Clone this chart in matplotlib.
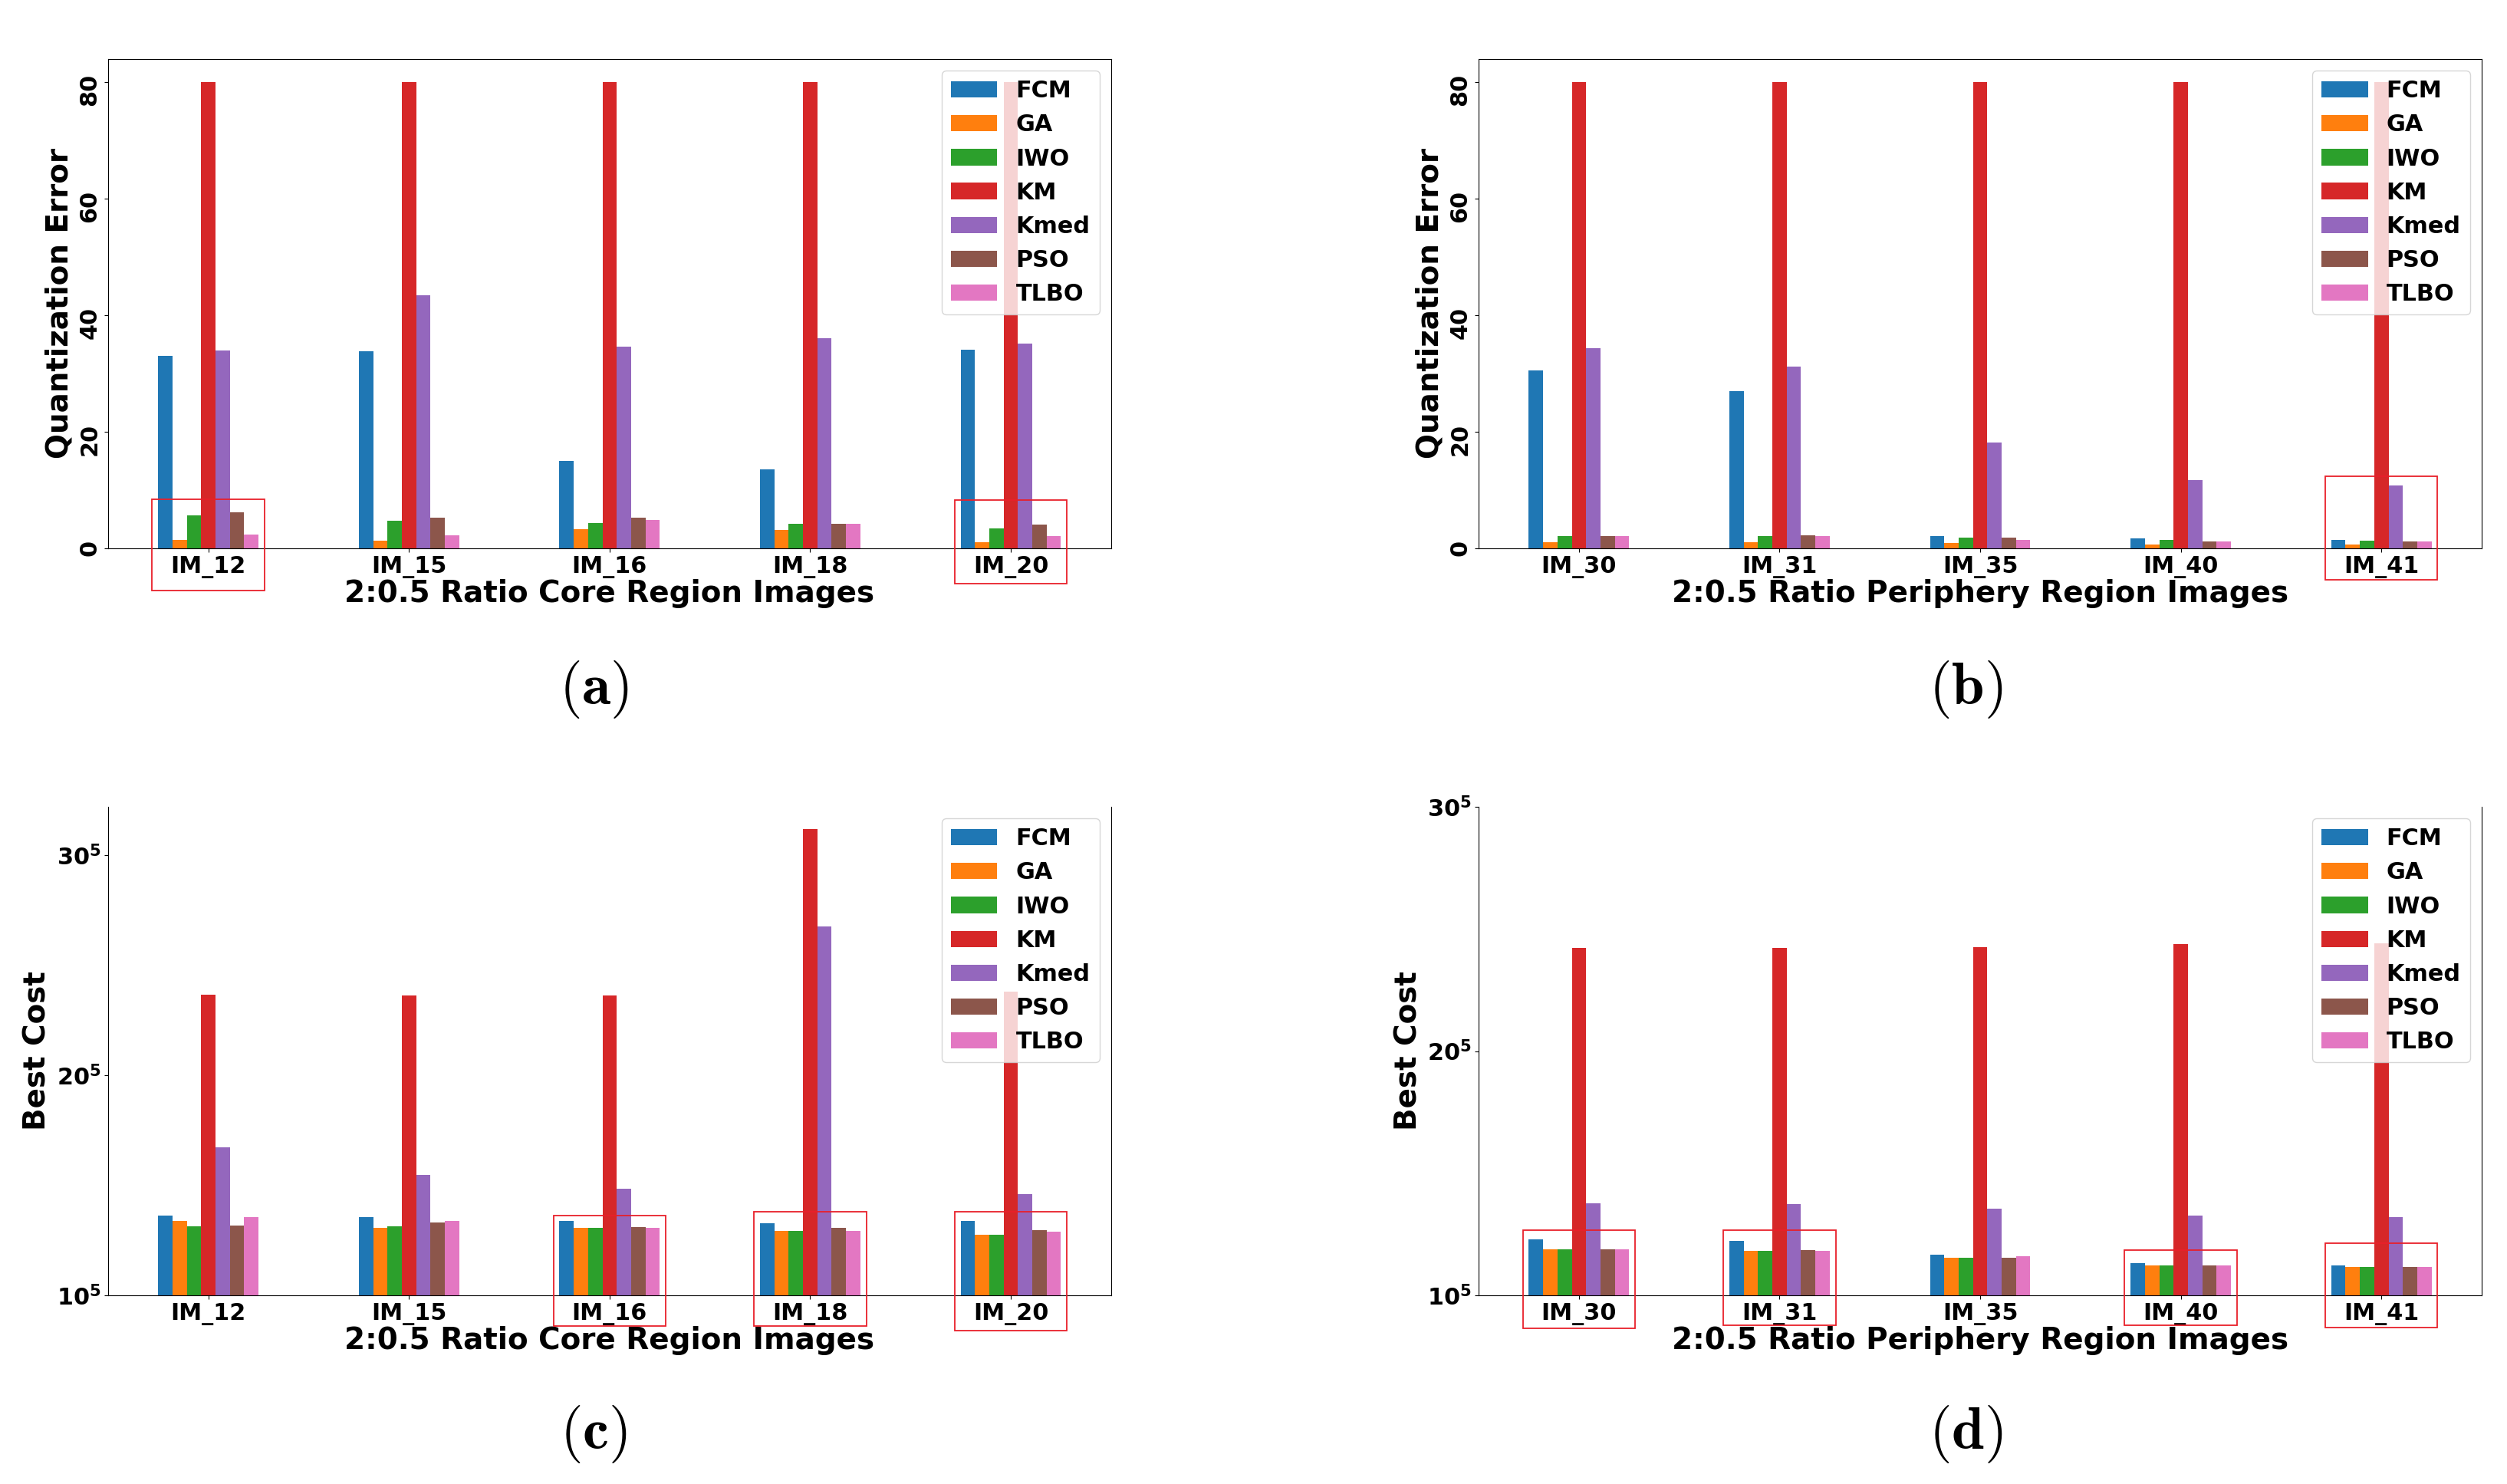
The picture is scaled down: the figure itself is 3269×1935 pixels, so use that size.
import numpy as np
import matplotlib
matplotlib.use('Agg')
import matplotlib.pyplot as plt
from matplotlib.patches import Rectangle
import matplotlib.transforms as mtransforms

# Metodos comparados (orden de las barras)
methods = ['FCM', 'GA', 'IWO', 'KM', 'Kmed', 'PSO', 'TLBO']

core_images = ['IM_12', 'IM_15', 'IM_16', 'IM_18', 'IM_20']
periph_images = ['IM_30', 'IM_31', 'IM_35', 'IM_40', 'IM_41']

# Quantization error - region central (una lista por metodo)
qe_core_fcm = [33.1, 33.9, 15.0, 13.5, 34.1]
qe_core_ga = [1.4, 1.3, 3.3, 3.1, 1.0]
qe_core_iwo = [5.6, 4.7, 4.3, 4.2, 3.4]
qe_core_km = [80.0, 80.0, 80.0, 80.0, 80.0]
qe_core_kmed = [34.0, 43.5, 34.6, 36.1, 35.2]
qe_core_pso = [6.2, 5.2, 5.2, 4.2, 4.1]
qe_core_tlbo = [2.4, 2.2, 4.9, 4.2, 2.1]

# Quantization error - periferia
qe_per_fcm = [30.5, 27.0, 2.1, 1.7, 1.5]
qe_per_ga = [1.0, 1.0, 0.9, 0.6, 0.6]
qe_per_iwo = [2.1, 2.1, 1.85, 1.4, 1.3]
qe_per_km = [80.0, 80.0, 80.0, 80.0, 80.0]
qe_per_kmed = [34.3, 31.2, 18.2, 11.7, 10.8]
qe_per_pso = [2.1, 2.2, 1.85, 1.15, 1.15]
qe_per_tlbo = [2.1, 2.1, 1.4, 1.15, 1.15]

# Best cost - region central
bc_core_fcm = [13.64, 13.54, 13.37, 13.28, 13.37]
bc_core_ga = [13.37, 13.08, 13.08, 12.94, 12.74]
bc_core_iwo = [13.15, 13.15, 13.08, 12.94, 12.74]
bc_core_km = [23.65, 23.62, 23.62, 31.2, 23.79]
bc_core_kmed = [16.72, 15.48, 14.86, 26.77, 14.59]
bc_core_pso = [13.18, 13.32, 13.11, 13.08, 12.98]
bc_core_tlbo = [13.54, 13.37, 13.08, 12.94, 12.91]

# Best cost - periferia
bc_per_fcm = [12.29, 12.23, 11.67, 11.32, 11.23]
bc_per_ga = [11.88, 11.82, 11.55, 11.23, 11.17]
bc_per_iwo = [11.88, 11.82, 11.55, 11.23, 11.17]
bc_per_km = [24.21, 24.24, 24.27, 24.39, 24.42]
bc_per_kmed = [13.77, 13.74, 13.56, 13.27, 13.21]
bc_per_pso = [11.88, 11.85, 11.55, 11.23, 11.17]
bc_per_tlbo = [11.88, 11.82, 11.61, 11.23, 11.17]

cost_ticks = [10, 20, 30]
cost_ticklabels = [r'$\mathbf{10}^{5}$', r'$\mathbf{20}^{5}$', r'$\mathbf{30}^{5}$']

# Recuadros rojos: (imagen, borde superior, borde inferior) en fraccion del eje
boxes_a = [('IM_12', 0.100, -0.086), ('IM_20', 0.099, -0.072)]
boxes_b = [('IM_41', 0.147, -0.064)]
boxes_c = [('IM_16', 0.163, -0.063), ('IM_18', 0.171, -0.063), ('IM_20', 0.171, -0.072)]
boxes_d = [('IM_30', 0.133, -0.068), ('IM_31', 0.133, -0.061),
           ('IM_40', 0.093, -0.061), ('IM_41', 0.107, -0.066)]

plt.rcParams['font.family'] = ['DejaVu Sans']
plt.rcParams['font.weight'] = 'bold'
plt.rcParams['font.size'] = 21.8
plt.rcParams['axes.labelweight'] = 'bold'

fig = plt.figure(figsize=(32.69, 19.35), dpi=100)
ax_a = fig.add_axes([0.0431, 0.6305, 0.4001, 0.3297])
ax_b = fig.add_axes([0.5898, 0.6305, 0.4001, 0.3297])
ax_c = fig.add_axes([0.0431, 0.1271, 0.4001, 0.3292])
ax_d = fig.add_axes([0.5898, 0.1271, 0.4001, 0.3292])


def grouped_bars(ax, images, series):
    x = np.arange(len(images))
    w = 0.5 / len(series)
    for i, (name, vals) in enumerate(zip(methods, series)):
        ax.bar(x + (i - 3) * w, vals, w, label=name, color='C%d' % i)
    ax.set_xticks(x)
    ax.set_xticklabels(images)
    ax.set_xlim(-0.5, len(images) - 0.5)
    ax.legend(loc='upper right')


def red_boxes(ax, images, boxes):
    trans = mtransforms.blended_transform_factory(ax.transData, ax.transAxes)
    for name, top, bot in boxes:
        xc = images.index(name)
        r = Rectangle((xc - 0.28, bot), 0.56, top - bot, transform=trans,
                      fill=False, edgecolor='#e8202a', lw=1.3, clip_on=False, zorder=5)
        ax.add_patch(r)


grouped_bars(ax_a, core_images, [qe_core_fcm, qe_core_ga, qe_core_iwo, qe_core_km,
                                 qe_core_kmed, qe_core_pso, qe_core_tlbo])
grouped_bars(ax_b, periph_images, [qe_per_fcm, qe_per_ga, qe_per_iwo, qe_per_km,
                                   qe_per_kmed, qe_per_pso, qe_per_tlbo])
grouped_bars(ax_c, core_images, [bc_core_fcm, bc_core_ga, bc_core_iwo, bc_core_km,
                                 bc_core_kmed, bc_core_pso, bc_core_tlbo])
grouped_bars(ax_d, periph_images, [bc_per_fcm, bc_per_ga, bc_per_iwo, bc_per_km,
                                   bc_per_kmed, bc_per_pso, bc_per_tlbo])

for ax in (ax_a, ax_b):
    ax.set_ylim(0, 84)
    ax.set_yticks([0, 20, 40, 60, 80])
    ax.tick_params(axis='y', labelrotation=90)
    ax.set_ylabel('Quantization Error', fontsize=28)

ax_c.set_ylim(10, 32.2)
ax_d.set_ylim(10, 30)
for ax in (ax_c, ax_d):
    ax.set_yticks(cost_ticks)
    ax.set_yticklabels(cost_ticklabels)
    ax.spines['top'].set_visible(False)
    ax.set_ylabel('Best Cost', fontsize=28)

ax_a.set_xlabel('2:0.5 Ratio Core Region Images', fontsize=28, labelpad=1)
ax_c.set_xlabel('2:0.5 Ratio Core Region Images', fontsize=28, labelpad=1)
ax_b.set_xlabel('2:0.5 Ratio Periphery Region Images', fontsize=28, labelpad=1)
ax_d.set_xlabel('2:0.5 Ratio Periphery Region Images', fontsize=28, labelpad=1)

red_boxes(ax_a, core_images, boxes_a)
red_boxes(ax_b, periph_images, boxes_b)
red_boxes(ax_c, core_images, boxes_c)
red_boxes(ax_d, periph_images, boxes_d)

# Etiquetas de los paneles
for xf, yf, lab in [(0.2368, 0.5354, 'a'), (0.784, 0.5354, 'b'),
                    (0.2368, 0.0336, 'c'), (0.784, 0.0336, 'd')]:
    fig.text(xf, yf, r'$(\mathbf{%s})$' % lab, fontsize=55, ha='center', va='center',
             math_fontfamily='cm')

fig.savefig('out.png', dpi=100)
